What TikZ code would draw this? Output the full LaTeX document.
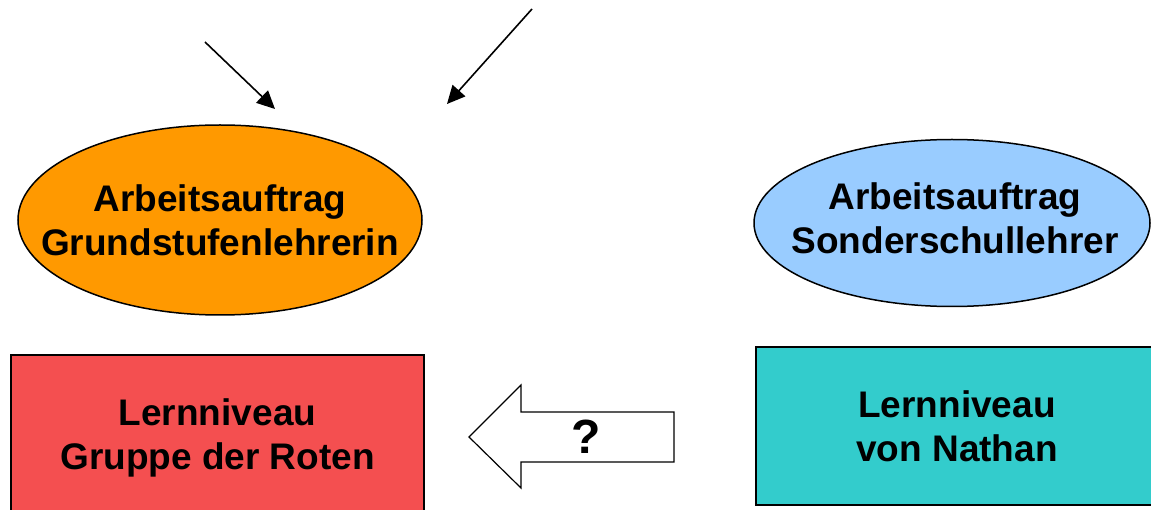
\documentclass[tikz,border=0pt]{standalone}
\usepackage{fontspec}
\setmainfont{Liberation Sans}
\usetikzlibrary{arrows.meta, shapes.geometric}

\definecolor{orangeA}{HTML}{FF9900}
\definecolor{blauA}{HTML}{99CCFF}
\definecolor{rotA}{HTML}{F44F50}
\definecolor{tuerkisA}{HTML}{33CCCC}

\begin{document}
\begin{tikzpicture}[x=1pt, y=-1pt,
		auftrag/.style={draw, ellipse, line width=1.5pt, inner sep=0pt},
		beschriftung/.style={align=center, inner sep=0pt, font=\bfseries\fontsize{37}{44}\selectfont},
		niveau/.style={draw, rectangle, line width=2.5pt, inner sep=0pt, align=center, font=\bfseries\fontsize{37}{44}\selectfont},
		pfeil/.style={-{Triangle[length=18pt, width=17pt]}, line width=1.6pt}]
				\useasboundingbox (0, 0) rectangle (1151, 510);
				\node[auftrag, fill=orangeA, minimum width=404, minimum height=190] (AG)at(220, 220) {};
				\node[beschriftung] (AGt)at(AG.center) {Arbeitsauftrag\\Grundstufenlehrerin};
				\node[auftrag, fill=blauA, minimum width=396, minimum height=167] (AS)at(952, 223) {};
				\node[beschriftung] (ASt)at(955, 218) {Arbeitsauftrag\\Sonderschullehrer};
				\node[niveau, fill=rotA, minimum width=413, minimum height=166] (LR)at(217.5, 438) {Lernniveau\\Gruppe der Roten};
				\node[niveau, fill=tuerkisA, minimum width=402, minimum height=158] (LN)at(957, 426) {Lernniveau\\von Nathan};
				\coordinate (P1a) at (205, 42);
				\coordinate (P1b) at (275, 109);
				\coordinate (P2a) at (532, 9);
				\coordinate (P2b) at (447, 104);
				\draw[pfeil] (P1a) -- (P1b);
				\draw[pfeil] (P2a) -- (P2b);
				\draw[line width=1.2pt] (469, 437) -- (521, 385) -- (521, 412) -- (674, 412) -- (674, 462) -- (521, 462) -- (521, 488) -- cycle;
				\node[font=\bfseries\fontsize{48}{52}\selectfont] (F)at(586, 437) {?};
			\end{tikzpicture}
\end{document}
